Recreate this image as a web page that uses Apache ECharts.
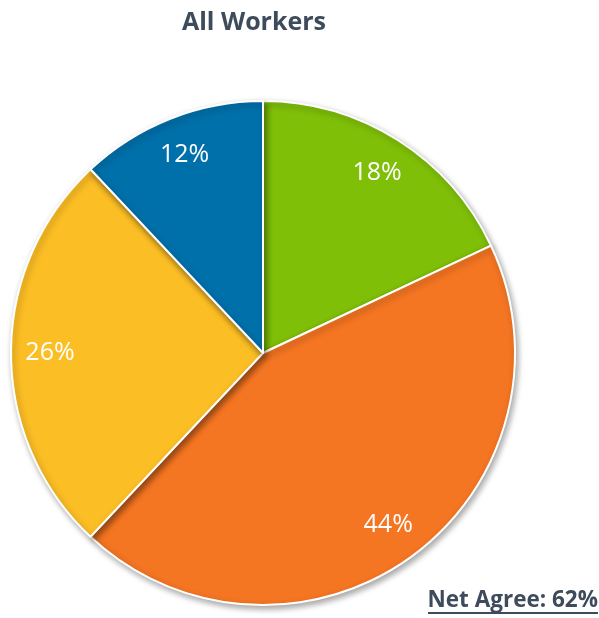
<!DOCTYPE html>
<html>
<head>
<meta charset="utf-8">
<script src="https://cdn.jsdelivr.net/npm/echarts@6/dist/echarts.min.js"></script>
<style>
  html, body { margin: 0; padding: 0; background: #fff; }
  #chart { width: 599px; height: 618px; }
</style>
</head>
<body>
<div id="chart"></div>
<script>
// Response shares, clockwise from the top
const categories = ['Agree strongly', 'Agree somewhat', 'Disagree somewhat', 'Disagree strongly'];
const shares = [18, 44, 26, 12];
const sliceColors = ['#7FBF08', '#F47522', '#FCBE25', '#0070AA'];
const netAgree = shares[0] + shares[1];

const pieData = categories.map((name, i) => ({
  name,
  value: shares[i],
  itemStyle: { color: sliceColors[i] }
}));

const center = [263, 353];
const textColor = '#3E4B5B';

const chart = echarts.init(document.getElementById('chart'));
chart.setOption({
  animation: false,
  title: {
    text: 'All Workers',
    left: 249,
    top: 5,
    textAlign: 'center',
    textStyle: { fontFamily: 'Open Sans', fontWeight: 'bold', fontSize: 25, color: textColor }
  },
  graphic: [
    {
      type: 'text',
      right: 1,
      top: 589,
      style: {
        text: 'Net Agree: ' + netAgree + '%',
        font: 'bold 22.5px "Open Sans"',
        fill: textColor
      }
    },
    {
      type: 'rect',
      right: 1,
      top: 612,
      shape: { width: 170, height: 2 },
      style: { fill: textColor }
    }
  ],
  series: [
    {
      type: 'pie',
      center,
      radius: [0, 252],
      startAngle: 90,
      clockwise: true,
      silent: true,
      label: { show: false },
      labelLine: { show: false },
      itemStyle: {
        borderColor: '#fff',
        borderWidth: 2,
        shadowBlur: 6,
        shadowOffsetX: 2,
        shadowOffsetY: 3,
        shadowColor: 'rgba(0,0,0,0.35)'
      },
      data: pieData
    },
    {
      // transparent ring that carries the percentage labels near the rim
      type: 'pie',
      center,
      radius: [168, 252],
      startAngle: 90,
      clockwise: true,
      silent: true,
      itemStyle: { color: 'rgba(0,0,0,0)' },
      label: {
        show: true,
        position: 'inside',
        formatter: p => p.value + '%',
        fontFamily: 'Open Sans',
        fontSize: 25,
        color: '#fff'
      },
      labelLine: { show: false },
      data: shares.map((v, i) => ({ name: categories[i], value: v }))
    }
  ]
});
</script>
</body>
</html>
